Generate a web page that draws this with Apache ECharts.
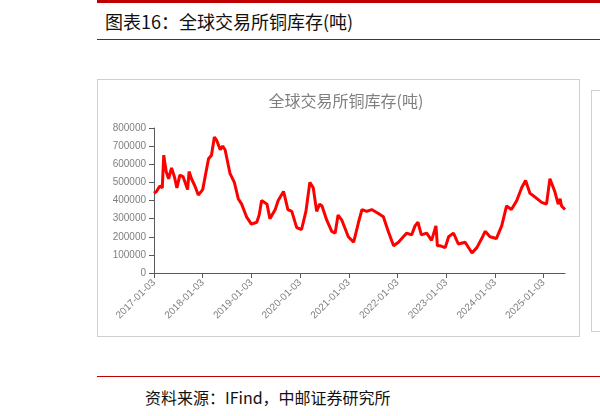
<!DOCTYPE html><html><head><meta charset="utf-8"><script src="https://cdn.jsdelivr.net/npm/echarts@6/dist/echarts.min.js"></script>
<style>body{margin:0;background:#fff;font-family:"Noto Sans CJK SC";}
#hdr{position:absolute;left:97px;top:0;width:503px;height:40px;border-top:3px solid #c00000;border-bottom:1.5px solid #c00000;box-sizing:border-box;font-size:18px;line-height:36px;padding-left:8px;color:#111}
#box{position:absolute;left:97px;top:79px;width:483px;height:258px;border:1px solid #d0d0d0;box-sizing:border-box}
#box2{position:absolute;left:591px;top:90px;width:20px;height:240px;border:1px solid #d0d0d0}
#ftr{position:absolute;left:97px;top:376px;width:503px;border-top:1.5px solid #c00000;font-size:16px;padding-left:48px;padding-top:8px;color:#111;box-sizing:border-box}
#c{position:absolute;left:0;top:0;width:600px;height:416px}</style></head><body>
<div id="hdr">图表16：全球交易所铜库存(吨)</div><div id="box"></div><div id="box2"></div>
<div id="ftr">资料来源：IFind，中邮证券研究所</div>
<div id="c"></div>
<script>
const tickLabels=["2017-01-03","2018-01-03","2019-01-03","2020-01-03","2021-01-03","2022-01-03","2023-01-03","2024-01-03","2025-01-03"];
const years=[0,0.05,0.12,0.17,0.2,0.25,0.3,0.36,0.42,0.47,0.53,0.6,0.64,0.69,0.72,0.77,0.84,0.91,1.0,1.07,1.12,1.18,1.24,1.29,1.36,1.41,1.46,1.56,1.65,1.73,1.8,1.9,2.0,2.11,2.16,2.21,2.32,2.38,2.49,2.55,2.66,2.75,2.83,2.93,3.03,3.12,3.2,3.27,3.34,3.4,3.45,3.55,3.65,3.72,3.78,3.86,3.99,4.1,4.2,4.27,4.37,4.47,4.6,4.71,4.81,4.92,5.02,5.12,5.19,5.29,5.36,5.42,5.49,5.6,5.7,5.79,5.82,5.88,5.98,6.05,6.15,6.25,6.39,6.53,6.63,6.73,6.8,6.9,7.03,7.14,7.24,7.34,7.45,7.55,7.63,7.72,7.82,7.96,8.06,8.13,8.23,8.3,8.34,8.37,8.44];
const stock=[440000,450000,480000,470000,650000,560000,520000,580000,530000,470000,540000,530000,530000,460000,560000,520000,480000,430000,460000,560000,630000,650000,750000,730000,680000,700000,680000,550000,500000,410000,380000,310000,270000,280000,320000,400000,380000,300000,350000,400000,450000,350000,340000,250000,240000,340000,500000,470000,340000,380000,370000,290000,230000,220000,320000,290000,200000,170000,280000,350000,340000,350000,330000,310000,230000,150000,170000,200000,220000,210000,260000,280000,210000,220000,180000,260000,150000,150000,140000,200000,220000,160000,170000,110000,140000,190000,230000,200000,190000,260000,370000,350000,400000,470000,510000,440000,420000,390000,380000,520000,450000,380000,410000,370000,350000];
const ch=echarts.init(document.getElementById('c'));
ch.setOption({animation:false,
title:{text:'全球交易所铜库存(吨)',left:341,top:88,textAlign:'center',textStyle:{color:'#7f7f7f',fontSize:16,fontWeight:'normal',fontFamily:'Noto Sans CJK SC'}},
grid:{left:154,top:128,right:35,bottom:143,containLabel:false},
xAxis:{type:'value',min:0,max:8.44,interval:1,axisLine:{lineStyle:{color:'#595959'}},axisTick:{show:true,lineStyle:{color:'#595959'}},splitLine:{show:false},
axisLabel:{rotate:45,color:'#7f7f7f',fontSize:10,fontFamily:'Liberation Sans',showMaxLabel:false,formatter:v=>Math.abs(v-Math.round(v))<1e-6?(tickLabels[Math.round(v)]||''):''}},
yAxis:{type:'value',min:0,max:800000,interval:100000,axisLine:{show:true,lineStyle:{color:'#595959'}},axisTick:{show:true,lineStyle:{color:'#595959'}},splitLine:{show:false},
axisLabel:{color:'#7f7f7f',fontSize:10,fontFamily:'Liberation Sans',formatter:v=>String(v)}},
series:[{type:'line',showSymbol:false,data:years.map((y,i)=>[y,stock[i]]),lineStyle:{color:'#ff0000',width:3}}]});
</script></body></html>
